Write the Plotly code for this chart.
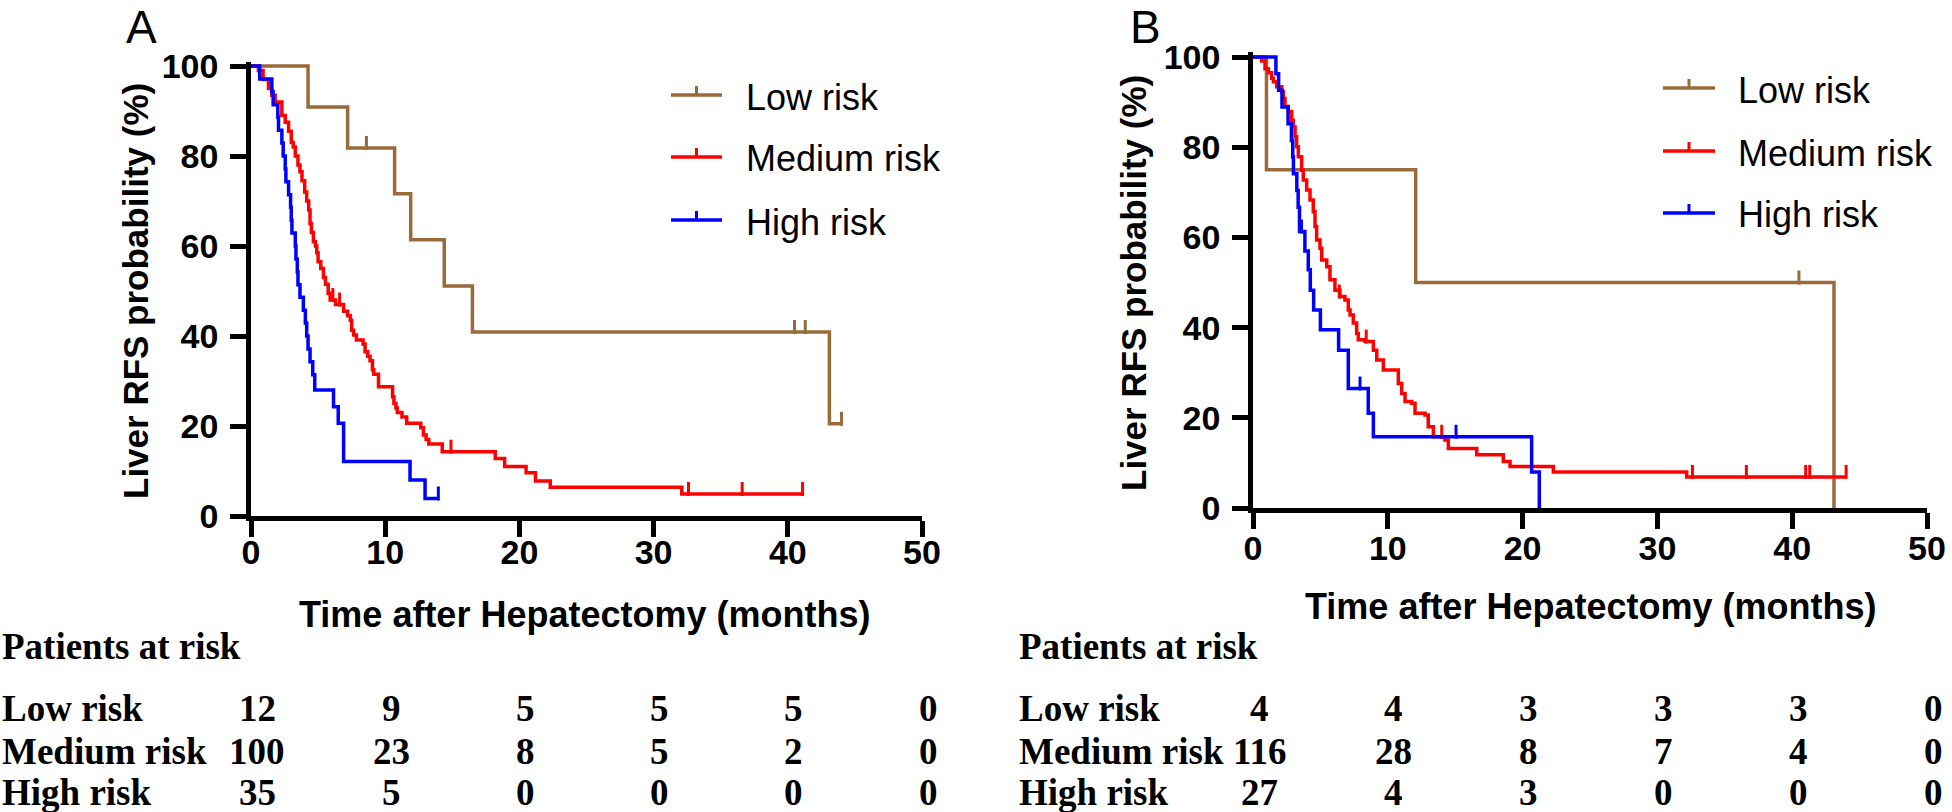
import plotly.graph_objects as go

W, H = 1952, 812

BROWN = "#9B6A3B"
RED = "#FF0000"
BLUE = "#0000FF"

# ---------------- Panel A data ----------------
A_low_t = [0, 4.25, 7.2, 10.7, 11.9, 14.4, 16.5, 43.1, 44.0]
A_low_s = [100, 90.9, 81.8, 71.6, 61.4, 51.1, 40.9, 20.5, 20.5]
A_low_cens_t = [2.6, 8.6, 40.5, 41.3, 44.0]
A_low_cens_s = [100, 81.8, 40.9, 40.9, 20.5]

A_med_t = [0, 0.55, 0.9, 1.3, 1.55, 1.8, 2.3, 2.55, 2.8, 3.0, 3.15, 3.3, 3.5, 3.65, 3.8, 4.0,
           4.15, 4.3, 4.4, 4.5, 4.65, 4.8, 4.9, 5.0, 5.2, 5.4, 5.55, 5.75, 5.9, 6.3, 6.9, 7.2,
           7.4, 7.5, 7.65, 7.85, 8.35, 8.5, 8.7, 8.87, 9.05, 9.15, 9.5, 10.55, 10.65, 10.8,
           10.9, 11.25, 11.6, 12.65, 12.85, 13.05, 13.25, 14.25, 18.2, 18.9, 20.5, 21.2, 22.3,
           32.1, 41.1]
A_med_s = [100, 99, 97, 95, 93.5, 92, 89, 87.5, 85.5, 83, 82, 80, 78, 76.5, 74.5, 72,
           70, 68, 65, 63, 61, 60, 58.5, 56.5, 55, 53, 51.5, 49.5, 48, 47, 45.5, 44.5,
           43.5, 41.3, 40.2, 39.1, 38.2, 36.5, 35.5, 34.5, 32.5, 31.5, 28.7, 26.5, 25, 24,
           23, 22, 20.6, 19.6, 18, 17, 16, 14.3, 12.8, 11.0, 9.6, 7.8, 6.4,
           4.9, 4.9]
A_med_cens_t = [6.1, 6.6, 14.9, 32.6, 36.6, 41.1]
A_med_cens_s = [48, 47, 14.3, 4.9, 4.9, 4.9]

A_high_t = [0, 0.65, 1.55, 1.65, 2.0, 2.05, 2.3, 2.4, 2.55, 2.6, 2.8, 2.95, 3.0, 3.05, 3.3,
            3.35, 3.45, 3.5, 3.65, 3.9, 4.05, 4.15, 4.25, 4.4, 4.6, 4.75, 6.15, 6.5, 6.9,
            11.85, 12.97, 13.96]
A_high_s = [100, 97.1, 94.3, 91.4, 88.6, 85.7, 82.9, 80.0, 77.1, 74.3, 71.4, 68.6, 65.7, 62.9,
            60.0, 57.1, 54.3, 51.4, 48.6, 45.7, 42.9, 40.0, 37.1, 34.3, 31.4, 28.0, 24.3, 20.6,
            12.1, 8.0, 3.9, 3.9]
A_high_cens_t = [0.5, 13.96]
A_high_cens_s = [100, 3.9]

# ---------------- Panel B data ----------------
B_low_t = [0, 1.0, 12.07, 43.1]
B_low_s = [100, 75, 50, 0]
B_low_cens_t = [40.5]
B_low_cens_s = [50]

B_med_t = [0, 0.64, 0.89, 1.14, 1.38, 1.51, 1.76, 2.13, 2.25, 2.37, 2.62, 2.87, 2.99, 3.12,
           3.24, 3.36, 3.61, 3.73, 3.98, 4.23, 4.47, 4.6, 4.72, 4.97, 5.1, 5.47, 5.71, 6.08,
           6.45, 6.82, 7.07, 7.2, 7.44, 7.69, 7.81, 8.31, 8.93, 9.18, 9.67, 10.78, 11.03,
           11.28, 11.77, 12.02, 12.76, 13.0, 13.38, 14.24, 14.49, 16.6, 18.57, 19.07, 22.28,
           32.17, 44.0]
B_med_s = [100, 99.1, 97.4, 96.5, 95.3, 94.5, 93.4, 92.3, 90.8, 89.0, 87.9, 86.0, 84.5, 82.3,
           80.1, 77.9, 74.9, 72.7, 70.5, 68.3, 65.7, 62.4, 59.4, 57.6, 55.0, 53.5, 50.6, 48.3,
           46.9, 46.1, 43.9, 42.8, 41.0, 38.7, 37.3, 36.9, 35.0, 32.8, 30.6, 27.6, 25.4,
           23.6, 23.2, 21.0, 20.6, 18.0, 15.8, 15.1, 13.2, 11.8, 10.3, 9.2, 8.0,
           6.9, 6.9]
B_med_cens_t = [6.4, 8.4, 14.0, 32.6, 36.6, 41.0, 41.3, 44.0]
B_med_cens_s = [46.9, 36.9, 15.8, 6.9, 6.9, 6.9, 6.9, 6.9]

B_high_t = [0, 1.7, 1.9, 2.15, 2.6, 2.85, 2.95, 3.0, 3.25, 3.35, 3.45, 3.85, 4.1, 4.25, 4.5,
            5.0, 6.35, 7.07, 8.55, 8.93, 20.67, 21.24]
B_high_s = [100, 96.3, 92.6, 88.9, 85.2, 81.5, 77.8, 74.1, 70.4, 66.7, 61.3, 57.0, 52.8, 48.3,
            43.9, 39.5, 35.0, 26.5, 21.0, 15.8, 8.0, 0]
B_high_cens_t = [3.6, 7.94, 15.06]
B_high_cens_s = [61.3, 26.5, 15.8]

# ---------------- Numbers at risk ----------------
risk_times = [0, 10, 20, 30, 40, 50]
group_names = ["Low risk", "Medium risk", "High risk"]
group_colors = [BROWN, RED, BLUE]
A_risk_low = [12, 9, 5, 5, 5, 0]
A_risk_med = [100, 23, 8, 5, 2, 0]
A_risk_high = [35, 5, 0, 0, 0, 0]
B_risk_low = [4, 4, 3, 3, 3, 0]
B_risk_med = [116, 28, 8, 7, 4, 0]
B_risk_high = [27, 4, 3, 0, 0, 0]

x_ticks = [0, 10, 20, 30, 40, 50]
y_ticks = [0, 20, 40, 60, 80, 100]

SANS = "Liberation Sans"
SERIF = "Liberation Serif"

fig = go.Figure()

CENSOR_OFFSET = 1.1  # data units, lifts the tick so it sits on top of the line
LW = 3.5


def add_group(t, s, ct, cs, color, name, xa, ya):
    fig.add_trace(go.Scatter(
        x=t, y=s, mode="lines", line=dict(color=color, width=LW, shape="hv"),
        name=name, showlegend=False, xaxis=xa, yaxis=ya, hoverinfo="skip"))
    fig.add_trace(go.Scatter(
        x=ct, y=[v + CENSOR_OFFSET for v in cs], mode="markers",
        marker=dict(symbol="line-ns", size=10, line=dict(color=color, width=3)),
        name=name + " (censored)", showlegend=False,
        xaxis=xa, yaxis=ya, hoverinfo="skip", cliponaxis=False))


add_group(A_low_t, A_low_s, A_low_cens_t, A_low_cens_s, BROWN, "Low risk", "x", "y")
add_group(A_med_t, A_med_s, A_med_cens_t, A_med_cens_s, RED, "Medium risk", "x", "y")
add_group(A_high_t, A_high_s, A_high_cens_t, A_high_cens_s, BLUE, "High risk", "x", "y")
add_group(B_low_t, B_low_s, B_low_cens_t, B_low_cens_s, BROWN, "Low risk", "x2", "y2")
add_group(B_med_t, B_med_s, B_med_cens_t, B_med_cens_s, RED, "Medium risk", "x2", "y2")
add_group(B_high_t, B_high_s, B_high_cens_t, B_high_cens_s, BLUE, "High risk", "x2", "y2")


def xd(p):
    return p / W


def yd(p):
    return 1 - p / H


axis_common = dict(
    showline=True, linecolor="black", linewidth=4.5, ticks="outside", ticklen=16,
    tickwidth=4.5, tickcolor="black", showgrid=False, zeroline=False, mirror=False,
    automargin=False,
    tickfont=dict(family=SANS, size=34, color="black", weight="bold"),
)

fig.update_layout(
    template="none",
    width=W, height=H, margin=dict(l=0, r=0, t=0, b=0, pad=0, autoexpand=False),
    paper_bgcolor="white", plot_bgcolor="white", showlegend=False,
    xaxis=dict(domain=[xd(251), xd(922)], range=[0, 50], tickvals=x_ticks, anchor="y",
               ticklabelstandoff=-14, **axis_common),
    yaxis=dict(domain=[yd(516), yd(516 - 101 * 4.5)], range=[0, 101], tickvals=y_ticks, anchor="x",
               ticklabelstandoff=5, **axis_common),
    xaxis2=dict(domain=[xd(1253), xd(1927)], range=[0, 50], tickvals=x_ticks, anchor="y2",
                ticklabelstandoff=-10, **axis_common),
    yaxis2=dict(domain=[yd(508), yd(508 - 101 * 4.51)], range=[0, 101], tickvals=y_ticks, anchor="x2",
                ticklabelstandoff=5, **axis_common),
)

ann = []
shapes = []
title_font = dict(family=SANS, size=35, color="black", weight="bold")
xtitle_font = dict(family=SANS, size=36, color="black", weight="bold")
legend_font = dict(family=SANS, size=36, color="black")


def label(text, x, y, font, xanchor="center", textangle=0, xref="paper", xshift=0):
    return dict(text=text, x=x, y=y, xref=xref, yref="paper", xanchor=xanchor, yanchor="middle",
                textangle=textangle, showarrow=False, font=font, xshift=xshift)


# panel letters
ann.append(label("A", xd(141), yd(27), dict(family=SANS, size=46, color="black")))
ann.append(label("B", xd(1145), yd(27), dict(family=SANS, size=46, color="black")))
# axis titles
ann.append(label("Liver RFS probability (%)", xd(135), yd(291), title_font, textangle=-90))
ann.append(label("Liver RFS probability (%)", xd(1133), yd(283), title_font, textangle=-90))
ann.append(label("Time after Hepatectomy (months)", xd(584), yd(614), xtitle_font))
ann.append(label("Time after Hepatectomy (months)", xd(1590), yd(606), xtitle_font))

# legends (line sample with a censor tick, then the group name)
for (x0, x1, xt, ys) in [(671, 722, 744, [95, 157, 220]), (1663, 1715, 1736, [88, 151, 213])]:
    for name, color, yy in zip(group_names, group_colors, ys):
        shapes.append(dict(type="line", xref="paper", yref="paper", x0=xd(x0), x1=xd(x1),
                           y0=yd(yy), y1=yd(yy), line=dict(color=color, width=LW)))
        xm = (x0 + x1) / 2
        shapes.append(dict(type="line", xref="paper", yref="paper", x0=xd(xm), x1=xd(xm),
                           y0=yd(yy), y1=yd(yy - 9), line=dict(color=color, width=3)))
        ann.append(label(name, xd(xt), yd(yy + 2), legend_font, xanchor="left"))

table_font = dict(family=SERIF, size=37, color="black", weight="bold")
row_y = [708, 751, 792]
for xref, left, rows in [("x", 0, [A_risk_low, A_risk_med, A_risk_high]),
                         ("x2", 1017, [B_risk_low, B_risk_med, B_risk_high])]:
    ann.append(label("Patients at risk", xd(left), yd(646), table_font, xanchor="left"))
    for name, vals, ry in zip(group_names, rows, row_y):
        ann.append(label(name, xd(left), yd(ry), table_font, xanchor="left"))
        for t, v in zip(risk_times, vals):
            ann.append(label(str(v), t, yd(ry), table_font, xref=xref, xshift=6))

fig.update_layout(annotations=ann, shapes=shapes)
# remove the browser's default 8px body margin so the figure fills the window exactly
fig.write_html("out.html", config={"displayModeBar": False},
               post_script="document.body.style.margin='0px';")
